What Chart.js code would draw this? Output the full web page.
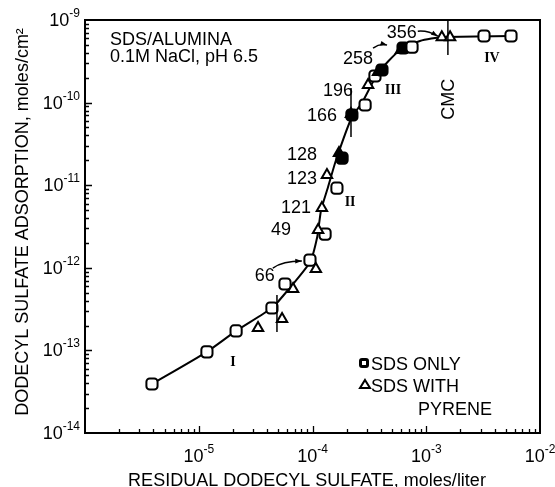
<!DOCTYPE html>
<html>
<head>
<meta charset="utf-8">
<script src="https://cdn.jsdelivr.net/npm/chart.js@4.4.0/dist/chart.umd.min.js"></script>
<style>
  html, body { margin: 0; padding: 0; background: #fff; }
</style>
</head>
<body>
<canvas id="myChart" width="555" height="487"></canvas>
<script>
// residual dodecyl sulfate (moles/liter) vs adsorption (moles/cm2)
const sdsOnlyConc = [3.88e-6, 1.18e-5, 2.13e-5, 4.4e-5, 5.73e-5, 9.5e-5, 1.29e-4, 1.64e-4, 1.82e-4,
                     2.22e-4, 2.9e-4, 3.54e-4, 4.08e-4, 6.25e-4, 7.5e-4, 3.22e-3, 5.56e-3];
const sdsOnlyAds  = [3.92e-14, 9.6e-14, 1.72e-13, 3.26e-13, 6.37e-13, 1.24e-12, 2.56e-12, 9.2e-12, 2.13e-11,
                     7.08e-11, 9.35e-11, 2.1e-10, 2.48e-10, 4.58e-10, 4.7e-10, 6.4e-10, 6.4e-10];
const sdsOnlySolid = [8, 9, 12, 13];

const pyreneConc = [3.32e-5, 5.4e-5, 6.75e-5, 1.07e-4, 1.12e-4, 1.21e-4, 1.34e-4, 1.71e-4, 2.18e-4,
                    3.08e-4, 3.77e-4, 6.0e-4, 1.37e-3, 1.62e-3];
const pyreneAds  = [1.87e-13, 2.4e-13, 5.53e-13, 9.66e-13, 2.87e-12, 5.3e-12, 1.33e-11, 2.45e-11, 7.28e-11,
                    1.63e-10, 2.34e-10, 4.34e-10, 6.2e-10, 6.2e-10];
const pyreneSolid = [7, 8, 10, 11];
const pyreneLabels = ['', '', '', '66', '49', '121', '123', '128', '166', '196', '258', '', '356', ''];

// hand drawn curve through the points
const curveConc = [3.88e-6, 1.18e-5, 2.13e-5, 4.4e-5, 5.4e-5, 9.5e-5, 1.10e-4, 1.19e-4, 1.37e-4, 1.61e-4,
                   2.22e-4, 2.72e-4, 3.77e-4, 5.87e-4, 8.8e-4, 1.40e-3, 5.56e-3];
const curveAds  = [3.92e-14, 9.6e-14, 1.72e-13, 3.26e-13, 4.43e-13, 1.17e-12, 2.36e-12, 5.0e-12, 9.5e-12, 2.02e-11,
                   6.7e-11, 9.9e-11, 2.28e-10, 4.34e-10, 5.57e-10, 6.22e-10, 6.4e-10];

const xTickExps = [-5, -4, -3, -2];
const yTickExps = [-9, -10, -11, -12, -13, -14];

const regionNames = ['I', 'II', 'III', 'IV'];
const regionConc  = [2.0e-5, 2.14e-4, 5.1e-4, 3.78e-3];
const regionAds   = [7.2e-14, 6.27e-12, 1.42e-10, 3.47e-10];

const cmcConc = 1.55e-3;

const FONT = '"Liberation Sans", Arial, Helvetica, sans-serif';

function xy(xs, ys) {
  return xs.map((x, i) => ({ x: x, y: ys[i] }));
}

// label offsets (px) from the marker, plus optional arrow (start, control, end)
const labelLayout = {
  '66':  { dx: -51, dy: 7,  arrow: [-43, -1, -33, -8, -14, -8] },
  '49':  { dx: -37, dy: 0 },
  '121': { dx: -26, dy: 0 },
  '123': { dx: -25, dy: 4 },
  '128': { dx: -37, dy: 2 },
  '166': { dx: -29, dy: 2 },
  '196': { dx: -30, dy: 6 },
  '258': { dx: -20, dy: -13, arrow: [-5, -24, 2, -29, 9, -27] },
  '356': { dx: -40, dy: -4,  arrow: [-24, -6, -14, -7, -4, -1] }
};

function drawPow(c, exp, x, y, align) {
  c.font = '18px ' + FONT;
  const wb = c.measureText('10').width;
  c.font = '12px ' + FONT;
  const es = '-' + Math.abs(exp);
  const we = c.measureText(es).width;
  let left;
  if (align === 'right') left = x - wb - we;
  else left = x - (wb + we) / 2;
  c.textAlign = 'left';
  c.textBaseline = 'alphabetic';
  c.font = '18px ' + FONT;
  c.fillText('10', left, y);
  c.font = '12px ' + FONT;
  c.fillText(es, left + wb, y - 9);
}

function arrowTo(c, x0, y0, cx, cy, x1, y1) {
  c.beginPath();
  c.moveTo(x0, y0);
  c.quadraticCurveTo(cx, cy, x1, y1);
  c.stroke();
  const ang = Math.atan2(y1 - cy, x1 - cx);
  c.beginPath();
  c.moveTo(x1, y1);
  c.lineTo(x1 - 7 * Math.cos(ang - 0.35), y1 - 7 * Math.sin(ang - 0.35));
  c.lineTo(x1 - 7 * Math.cos(ang + 0.35), y1 - 7 * Math.sin(ang + 0.35));
  c.closePath();
  c.fill();
}

const overlay = {
  id: 'overlay',
  afterDraw(chart) {
    const c = chart.ctx, a = chart.chartArea;
    const sx = chart.scales.x, sy = chart.scales.y;
    c.save();
    c.strokeStyle = '#000';
    c.fillStyle = '#000';

    // frame
    c.lineWidth = 2;
    c.strokeRect(a.left, a.top, a.right - a.left, a.bottom - a.top);

    // inward tick marks
    c.lineWidth = 1.3;
    c.beginPath();
    for (let d = -14; d <= -10; d++) {
      for (let m = 1; m <= 9; m++) {
        if (d === -14 && m === 1) continue;
        const py = Math.round(sy.getPixelForValue(m * Math.pow(10, d))) + 0.5;
        c.moveTo(a.left, py);
        c.lineTo(a.left + (m === 1 ? 7 : 4), py);
      }
    }
    for (let d = -6; d <= -3; d++) {
      for (let m = 1; m <= 9; m++) {
        if (d === -6 && m === 1) continue;
        const px = Math.round(sx.getPixelForValue(m * Math.pow(10, d))) + 0.5;
        c.moveTo(px, a.bottom);
        c.lineTo(px, a.bottom - (m === 1 ? 7 : 4));
      }
    }
    c.stroke();

    // tick labels
    yTickExps.forEach(e => drawPow(c, e, 80, sy.getPixelForValue(Math.pow(10, e)) + 6, 'right'));
    xTickExps.forEach(e => drawPow(c, e, sx.getPixelForValue(Math.pow(10, e)), 462, 'center'));

    // axis titles
    c.font = '18px ' + FONT;
    c.textAlign = 'center';
    c.textBaseline = 'alphabetic';
    c.fillText('RESIDUAL DODECYL SULFATE, moles/liter', 307, 486);
    c.save();
    c.translate(28, 222);
    c.rotate(-Math.PI / 2);
    c.fillText('DODECYL SULFATE ADSORPTION, moles/cm\u00b2', 0, 0);
    c.restore();

    // conditions
    c.textAlign = 'left';
    c.fillText('SDS/ALUMINA', 110, 45);
    c.fillText('0.1M NaCl, pH 6.5', 110, 62);

    // CMC marker
    const cx = sx.getPixelForValue(cmcConc);
    c.lineWidth = 1.5;
    c.beginPath();
    c.moveTo(cx, a.top);
    c.lineTo(cx, sy.getPixelForValue(3.77e-10));
    c.stroke();
    c.save();
    c.translate(cx + 6, sy.getPixelForValue(1.1e-10));
    c.rotate(-Math.PI / 2);
    c.textAlign = 'center';
    c.fillText('CMC', 0, 0);
    c.restore();

    // leader lines
    c.beginPath();
    c.moveTo(sx.getPixelForValue(2.18e-4), sy.getPixelForValue(1.5e-10));
    c.lineTo(sx.getPixelForValue(2.18e-4), sy.getPixelForValue(3.84e-11));
    c.moveTo(sx.getPixelForValue(4.87e-5), sy.getPixelForValue(4.69e-13));
    c.lineTo(sx.getPixelForValue(4.87e-5), sy.getPixelForValue(1.67e-13));
    c.stroke();

    // point labels
    c.font = '18px ' + FONT;
    c.textAlign = 'center';
    c.textBaseline = 'middle';
    pyreneLabels.forEach((t, i) => {
      if (!t) return;
      const L = labelLayout[t];
      const px = sx.getPixelForValue(pyreneConc[i]);
      const py = sy.getPixelForValue(pyreneAds[i]);
      c.fillText(t, px + L.dx, py + L.dy);
      if (L.arrow) {
        const r = L.arrow;
        c.lineWidth = 1.5;
        arrowTo(c, px + r[0], py + r[1], px + r[2], py + r[3], px + r[4], py + r[5]);
      }
    });

    // region numerals
    c.font = 'bold 14px "Liberation Serif", "Times New Roman", serif';
    regionNames.forEach((t, i) => {
      c.fillText(t, sx.getPixelForValue(regionConc[i]), sy.getPixelForValue(regionAds[i]));
    });

    // legend
    c.lineWidth = 2;
    c.beginPath();
    c.roundRect(359, 358, 10, 10, 3);
    c.fill();
    c.fillStyle = '#fff';
    c.fillRect(362, 361, 4, 4);
    c.fillStyle = '#000';
    c.beginPath();
    c.moveTo(365, 380);
    c.lineTo(370, 388);
    c.lineTo(360, 388);
    c.closePath();
    c.stroke();
    c.font = '18px ' + FONT;
    c.textAlign = 'left';
    c.textBaseline = 'alphabetic';
    c.fillText('SDS ONLY', 371, 370);
    c.fillText('SDS WITH', 371, 392);
    c.fillText('PYRENE', 418, 415);

    c.restore();
  }
};

const ctx = document.getElementById('myChart');
new Chart(ctx, {
  type: 'scatter',
  data: {
    datasets: [{
      label: 'curve',
      data: xy(curveConc, curveAds),
      showLine: true,
      borderColor: '#000',
      borderWidth: 2,
      pointRadius: 0,
      tension: 0.2,
      order: 3
    }, {
      label: 'SDS ONLY',
      data: xy(sdsOnlyConc, sdsOnlyAds),
      pointStyle: 'rectRounded',
      pointRadius: 6.5,
      borderColor: '#000',
      borderWidth: 2,
      pointBackgroundColor: c => sdsOnlySolid.includes(c.dataIndex) ? '#000' : '#fff',
      order: 2
    }, {
      label: 'SDS WITH PYRENE',
      data: xy(pyreneConc, pyreneAds),
      pointStyle: 'triangle',
      pointRadius: 6,
      borderColor: '#000',
      borderWidth: 2,
      pointBackgroundColor: c => pyreneSolid.includes(c.dataIndex) ? '#000' : '#fff',
      order: 1
    }]
  },
  options: {
    responsive: false,
    animation: false,
    devicePixelRatio: 1,
    layout: { padding: { top: 20, right: 15, left: 0, bottom: 0 } },
    plugins: { legend: { display: false }, tooltip: { enabled: false } },
    scales: {
      x: {
        type: 'logarithmic',
        min: 1e-6,
        max: 1e-2,
        grid: { display: false },
        border: { display: false },
        ticks: { display: false },
        afterFit: function(scale) { scale.height = 54; }
      },
      y: {
        type: 'logarithmic',
        min: 1e-14,
        max: 1e-9,
        grid: { display: false },
        border: { display: false },
        ticks: { display: false },
        afterFit: function(scale) { scale.width = 85; }
      }
    }
  },
  plugins: [overlay]
});
</script>
</body>
</html>
